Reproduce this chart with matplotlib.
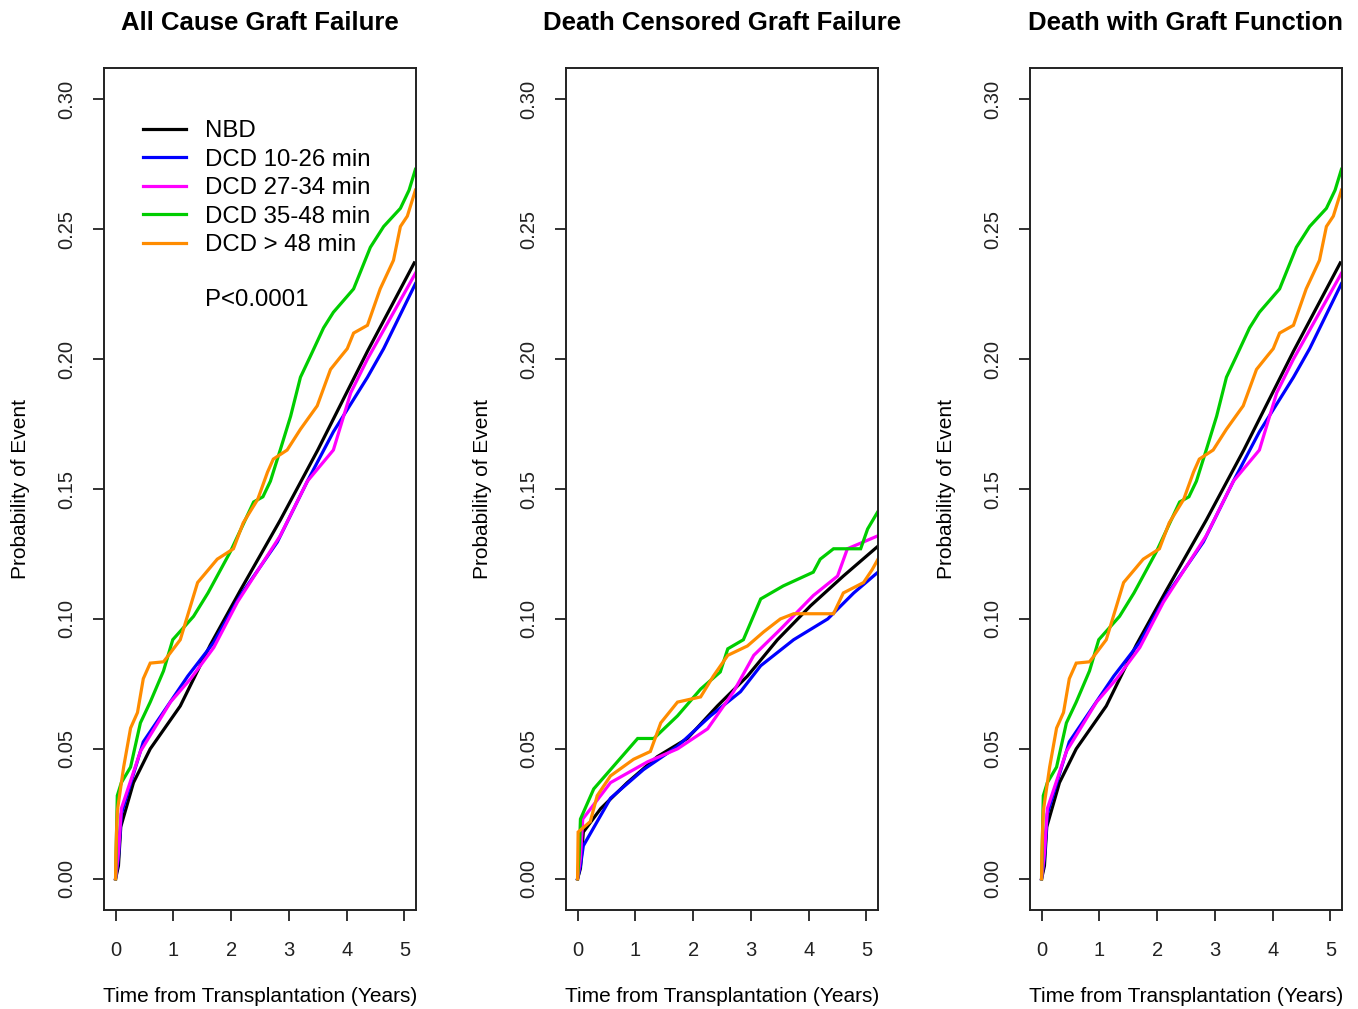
import numpy as np
import matplotlib
matplotlib.use("Agg")
import matplotlib.pyplot as plt

plt.rcParams['font.family'] = ['Liberation Sans', 'DejaVu Sans']

titles = ["All Cause Graft Failure", "Death Censored Graft Failure", "Death with Graft Function"]
groups = ["NBD", "DCD 10-26 min", "DCD 27-34 min", "DCD 35-48 min", "DCD > 48 min"]
colors = ["black", "#0000FF", "#FF00FF", "#00CD00", "#FF8C00"]
p_text = "P<0.0001"

# --- All cause graft failure ---
ac_nbd_t = [0, 0.05, 0.09, 0.31, 0.6, 1.12, 1.64, 2.16, 2.85, 3.5, 4.36, 5.17]
ac_nbd_y = [0, 0.005, 0.02, 0.037, 0.05, 0.0665, 0.09, 0.111, 0.138, 0.165, 0.203, 0.237]
ac_b_t = [0, 0.05, 0.1, 0.48, 0.9, 1.25, 1.7, 2.16, 2.8, 3.32, 3.77, 4.36, 4.64, 5.19]
ac_b_y = [0, 0.008, 0.025, 0.0527, 0.0665, 0.078, 0.091, 0.109, 0.1296, 0.153, 0.172, 0.193, 0.204, 0.229]
ac_m_t = [0, 0.05, 0.1, 0.43, 0.95, 1.3, 1.7, 2.11, 2.85, 3.32, 3.77, 4.07, 4.36, 5.19]
ac_m_y = [0, 0.01, 0.027, 0.049, 0.068, 0.077, 0.089, 0.1065, 0.132, 0.153, 0.165, 0.187, 0.2, 0.233]
ac_g_t = [0, 0.03, 0.1, 0.26, 0.43, 0.6, 0.83, 0.99, 1.35, 1.6, 1.99, 2.39, 2.55, 2.68, 2.85,
          3.03, 3.2, 3.37, 3.6, 3.77, 4.12, 4.41, 4.64, 4.93, 5.08, 5.19]
ac_g_y = [0, 0.032, 0.037, 0.043, 0.060, 0.068, 0.080, 0.092, 0.101, 0.110, 0.126, 0.145, 0.147,
          0.153, 0.165, 0.178, 0.193, 0.201, 0.212, 0.218, 0.227, 0.243, 0.251, 0.258, 0.265, 0.273]
ac_o_t = [0, 0.005, 0.02, 0.03, 0.14, 0.26, 0.38, 0.48, 0.6, 0.83, 0.95, 1.12, 1.42, 1.76, 2.04,
          2.21, 2.46, 2.63, 2.73, 2.97, 3.2, 3.49, 3.72, 3.9, 4.01, 4.12, 4.36, 4.58, 4.81, 4.93,
          5.05, 5.19]
ac_o_y = [0, 0.009, 0.02, 0.026, 0.043, 0.058, 0.064, 0.077, 0.083, 0.0835, 0.087, 0.092, 0.114,
          0.123, 0.127, 0.137, 0.146, 0.1565, 0.1615, 0.165, 0.173, 0.182, 0.196, 0.201, 0.204,
          0.21, 0.213, 0.227, 0.238, 0.251, 0.255, 0.265]

# --- Death censored graft failure ---
dc_nbd_t = [0, 0.05, 0.1, 0.4, 0.86, 1.38, 1.9, 2.42, 2.94, 3.46, 4.03, 4.6, 5.2]
dc_nbd_y = [0, 0.004, 0.018, 0.027, 0.037, 0.047, 0.054, 0.0665, 0.078, 0.092, 0.105, 0.1165, 0.128]
dc_b_t = [0, 0.05, 0.1, 0.57, 1.14, 1.73, 2.3, 2.82, 3.17, 3.74, 4.33, 4.78, 5.2]
dc_b_y = [0, 0.005, 0.0127, 0.031, 0.042, 0.051, 0.0627, 0.072, 0.082, 0.092, 0.1, 0.11, 0.118]
dc_m_t = [0, 0.05, 0.09, 0.57, 1.21, 1.73, 2.25, 2.7, 3.05, 3.51, 4.08, 4.5, 4.67, 5.2]
dc_m_y = [0, 0.008, 0.023, 0.037, 0.045, 0.05, 0.0577, 0.072, 0.086, 0.096, 0.109, 0.1165, 0.127, 0.132]
dc_g_t = [0, 0.03, 0.05, 0.28, 0.57, 1.04, 1.32, 1.73, 2.13, 2.47, 2.6, 2.87, 3.17, 3.56, 4.08,
          4.2, 4.43, 4.9, 5.02, 5.19]
dc_g_y = [0, 0.01, 0.023, 0.0346, 0.042, 0.054, 0.054, 0.0627, 0.073, 0.0796, 0.0885, 0.092,
          0.1077, 0.1127, 0.118, 0.123, 0.127, 0.127, 0.1346, 0.141]
dc_o_t = [0, 0.01, 0.22, 0.34, 0.57, 0.97, 1.26, 1.44, 1.73, 2.13, 2.35, 2.6, 2.94, 3.22, 3.51,
          3.74, 4.43, 4.6, 4.95, 5.1, 5.2]
dc_o_y = [0, 0.018, 0.022, 0.032, 0.0396, 0.046, 0.049, 0.06, 0.068, 0.07, 0.078, 0.086, 0.0896,
          0.095, 0.1, 0.102, 0.102, 0.11, 0.114, 0.119, 0.123]

# --- Death with graft function (same curves as the first panel in the picture) ---
dw_nbd_t, dw_nbd_y = ac_nbd_t, ac_nbd_y
dw_b_t, dw_b_y = ac_b_t, ac_b_y
dw_m_t, dw_m_y = ac_m_t, ac_m_y
dw_g_t, dw_g_y = ac_g_t, ac_g_y
dw_o_t, dw_o_y = ac_o_t, ac_o_y

panels = [
    [(ac_nbd_t, ac_nbd_y), (ac_b_t, ac_b_y), (ac_m_t, ac_m_y), (ac_g_t, ac_g_y), (ac_o_t, ac_o_y)],
    [(dc_nbd_t, dc_nbd_y), (dc_b_t, dc_b_y), (dc_m_t, dc_m_y), (dc_g_t, dc_g_y), (dc_o_t, dc_o_y)],
    [(dw_nbd_t, dw_nbd_y), (dw_b_t, dw_b_y), (dw_m_t, dw_m_y), (dw_g_t, dw_g_y), (dw_o_t, dw_o_y)],
]

fig = plt.figure(figsize=(13.58, 10.09), dpi=100)
lefts = [104, 566, 1030]
for i, left in enumerate(lefts):
    ax = fig.add_axes([left / 1358, 1 - 910 / 1009, 312 / 1358, 842 / 1009])
    for (t, y), c, lab in zip(panels[i], colors, groups):
        ax.plot(t, y, color=c, lw=2.3, label=lab, solid_joinstyle='miter')
    ax.set_xlim(-0.2, 5.2)
    ax.set_ylim(-0.012, 0.312)
    ax.set_xticks(range(6))
    ax.set_yticks([0, 0.05, 0.10, 0.15, 0.20, 0.25, 0.30])
    ax.set_yticklabels(["0.00", "0.05", "0.10", "0.15", "0.20", "0.25", "0.30"],
                       rotation=90, va='center')
    ax.tick_params(direction='out', length=8, width=1.3, labelsize=14.5, colors='#222222')
    ax.tick_params(axis='y', pad=12)
    ax.tick_params(axis='x', pad=14)
    for s in ax.spines.values():
        s.set_linewidth(1.4)
        s.set_color('#222222')
    ax.text(0.5, 1.053, titles[i], transform=ax.transAxes, ha='center', va='center',
            fontsize=18.5, fontweight='bold')
    ax.text(-0.269, 0.5, "Probability of Event", transform=ax.transAxes, rotation=90,
            ha='center', va='center', fontsize=15)
    ax.text(0.5, -0.1033, "Time from Transplantation (Years)", transform=ax.transAxes,
            ha='center', va='center', fontsize=15)
    if i == 0:
        ax.legend(loc='upper left', bbox_to_anchor=(0.125, 0.938), frameon=False,
                  fontsize=17.3, handlelength=1.8, handletextpad=0.8, labelspacing=0.27,
                  borderaxespad=0, borderpad=0)
        ax.text(0.324, 0.7245, p_text, transform=ax.transAxes, ha='left', va='center',
                fontsize=17.3)

fig.savefig("out.png", dpi=100)
